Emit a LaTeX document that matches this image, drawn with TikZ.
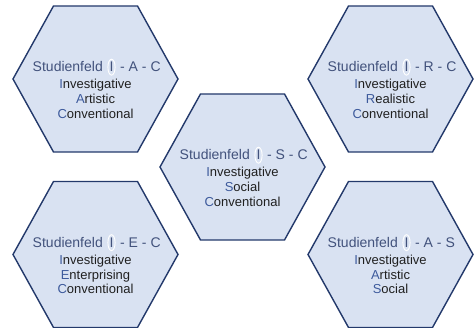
\documentclass[tikz,border=0pt]{standalone}
\usepackage{fontspec}
\setmainfont{Liberation Sans}
\definecolor{hexfill}{HTML}{D9E2F2}
\definecolor{hexline}{HTML}{23396B}
\definecolor{titlec}{HTML}{42527C}
\definecolor{firstc}{HTML}{3D5A9C}
\definecolor{bodyc}{HTML}{202020}
\newcommand\fl[1]{{\color{firstc}#1}}
\tikzset{
  hexa/.style={draw=hexline,fill=hexfill,line width=1.4pt,line join=miter},
  titletext/.style={inner sep=0pt,text=titlec,font=\fontsize{14}{16}\selectfont},
  bodytext/.style={inner sep=0pt,text=bodyc,font=\fontsize{13}{15}\selectfont,anchor=base},
  ring/.style={draw=white,line width=0.9pt}
}
\newcommand\hexcell[7]{%
  \draw[hexa] (#2-82.5,#3) -- (#2-42,#3+73) -- (#2+42,#3+73) -- (#2+82.5,#3)
    -- (#2+42,#3-73) -- (#2-42,#3-73) -- cycle;
  \coordinate (#1) at (#2,#3);
  \node[titletext,anchor=base] (#1-i) at (#2+16,#3+7) {I};
  \node[titletext,anchor=base east] (#1-l) at (#2+7.5,#3+7) {Studienfeld};
  \node[titletext,anchor=base west] (#1-r) at (#2+24.5,#3+7) {#4};
  \draw[ring] (#1-i.center) ellipse (3.6pt and 8pt);
  \node[bodytext] (#1-a) at (#2,#3-10) {\fl{I}nvestigative};
  \node[bodytext] (#1-b) at (#2,#3-25) {#5};
  \node[bodytext] (#1-c) at (#2,#3-39.5) {#6};
}
\begin{document}
\begin{tikzpicture}[x=1pt,y=1pt]
\useasboundingbox[fill=white] (0,0) rectangle (474,328);
\hexcell{tl}{95.5}{249}{- A - C}{\fl{A}rtistic}{\fl{C}onventional}{}
\hexcell{tr}{390.5}{249}{- R - C}{\fl{R}ealistic}{\fl{C}onventional}{}
\hexcell{ce}{242.5}{161}{- S - C}{\fl{S}ocial}{\fl{C}onventional}{}
\hexcell{bl}{95.5}{73.5}{- E - C}{\fl{E}nterprising}{\fl{C}onventional}{}
\hexcell{br}{390.5}{73.5}{- A - S}{\fl{A}rtistic}{\fl{S}ocial}{}
\end{tikzpicture}
\end{document}
